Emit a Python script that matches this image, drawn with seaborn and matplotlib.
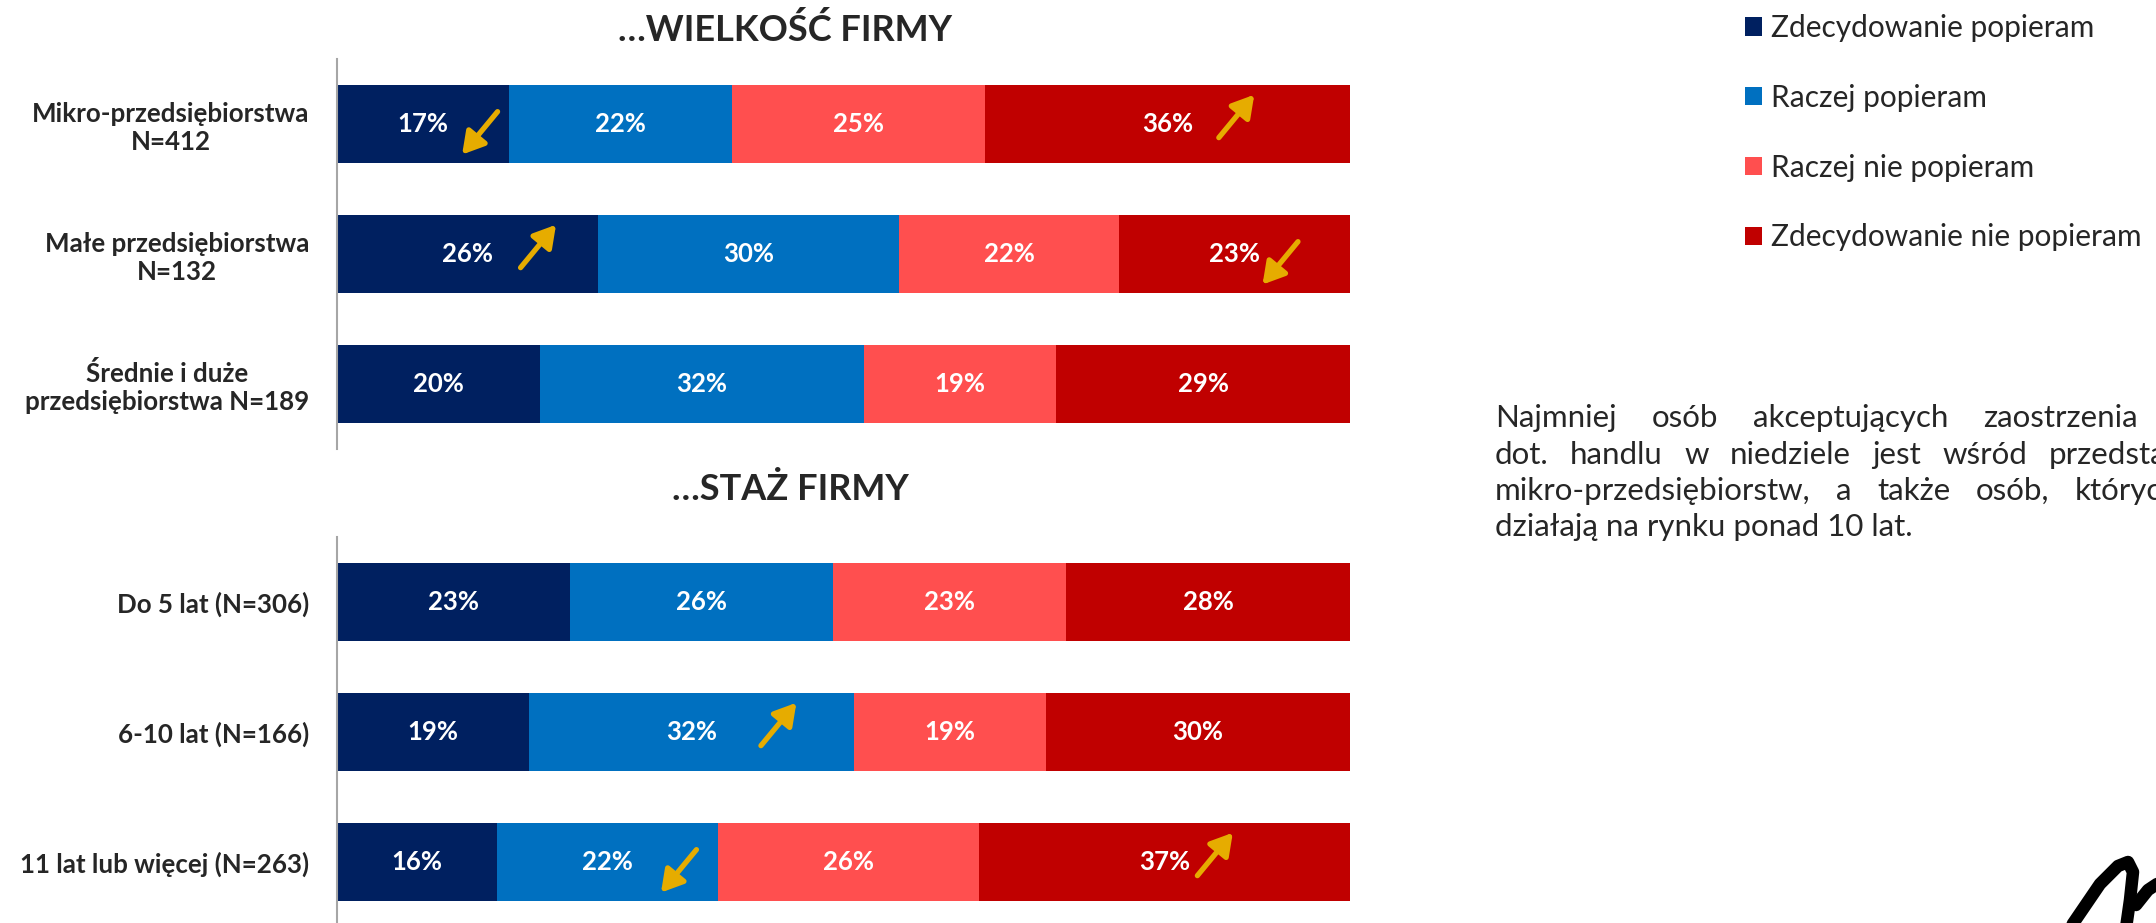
import numpy as np
import pandas as pd
import matplotlib
matplotlib.use("Agg")
import matplotlib.pyplot as plt
import seaborn as sns
from matplotlib.patches import Patch
from matplotlib.lines import Line2D


# answer categories, legend order
answers = ["Zdecydowanie popieram", "Raczej popieram",
           "Raczej nie popieram", "Zdecydowanie nie popieram"]
colors = ["#002060", "#0070C0", "#FF4F4F", "#C00000"]

# ...company size
size_labels = ["Mikro-przedsiębiorstwa\nN=412",
               "Małe przedsiębiorstwa\nN=132",
               "Średnie i duże\nprzedsiębiorstwa N=189"]
size_strong_yes = [17, 26, 20]
size_yes = [22, 30, 32]
size_no = [25, 22, 19]
size_strong_no = [36, 23, 29]

# ...company age
age_labels = ["Do 5 lat (N=306)", "6-10 lat (N=166)", "11 lat lub więcej (N=263)"]
age_strong_yes = [23, 19, 16]
age_yes = [26, 32, 22]
age_no = [23, 19, 26]
age_strong_no = [28, 30, 37]

# significance arrows: (row, answer index, direction, shift right of label in %)
size_arrows = [(0, 0, "down", 5.6), (0, 3, "up", 6.8),
               (1, 0, "up", 7.0), (1, 3, "down", 4.5)]
age_arrows = [(1, 1, "up", 8.6), (2, 1, "down", 7.0), (2, 3, "up", 5.0)]

comment_lines = [
    "Najmniej osób akceptujących zaostrzenia",
    "dot. handlu w niedziele jest wśród przedstawicieli",
    "mikro-przedsiębiorstw, a także osób, których",
    "działają na rynku ponad 10 lat.",
]

W, H = 2156, 923
GOLD = "#E6AC00"
GREY = "#A6A6A6"

sns.set_style("white")
plt.rcParams["font.family"] = ["Lato", "DejaVu Sans"]


def draw_panel(ax, labels, series, arrows):
    df = pd.DataFrame(dict(zip(answers, series)), index=labels)
    shares = df.div(df.sum(axis=1), axis=0) * 100
    cum = shares.cumsum(axis=1)

    # stacked bars: draw cumulative totals back to front
    for i in reversed(range(len(answers))):
        sns.barplot(x=cum[answers[i]].values, y=labels, orient="h",
                    color=colors[i], saturation=1, width=0.6,
                    edgecolor="none", ax=ax)

    for r in range(len(labels)):
        for i in range(len(answers)):
            xc = cum.iloc[r, i] - shares.iloc[r, i] / 2
            ax.text(xc, r, f"{df.iloc[r, i]}%", ha="center", va="center",
                    color="white", fontsize=18.5, fontweight="bold")

    dx, dy = 1.75, 0.165
    for r, i, d, off in arrows:
        xc = cum.iloc[r, i] - shares.iloc[r, i] / 2 + off
        if d == "down":
            yc = r + 0.07
            tail, tip = (xc + dx, yc - dy), (xc - dx, yc + dy)
        else:
            yc = r - 0.06
            tail, tip = (xc - dx, yc + dy), (xc + dx, yc - dy)
        ax.annotate("", xy=tip, xytext=tail,
                    arrowprops=dict(arrowstyle="-|>,head_length=0.65,head_width=0.38",
                                    color=GOLD, lw=3.8, mutation_scale=20,
                                    shrinkA=0, shrinkB=0))

    ax.set_xlim(0, 100)
    ax.set_xlabel("")
    ax.set_ylabel("")
    ax.xaxis.set_visible(False)
    for s in ["top", "right", "bottom"]:
        ax.spines[s].set_visible(False)
    ax.spines["left"].set_color(GREY)
    ax.spines["left"].set_linewidth(1.5)
    ax.tick_params(axis="y", which="major", length=0, pad=20)
    ax.set_yticks([-0.5, 0.5, 1.5, 2.5], minor=True)
    ax.tick_params(axis="y", which="minor", length=7, width=1.5, color=GREY)
    for lab in ax.get_yticklabels():
        lab.set_fontweight("bold")
        lab.set_fontsize(18.6)
        lab.set_multialignment("center")


fig = plt.figure(figsize=(W / 100, H / 100), dpi=100)
left, width = 337 / W, 1013 / W
ax1 = fig.add_axes([left, 1 - 449 / H, width, 390 / H])
ax2 = fig.add_axes([left, 1 - 927 / H, width, 390 / H])

draw_panel(ax1, size_labels,
           [size_strong_yes, size_yes, size_no, size_strong_no], size_arrows)
draw_panel(ax2, age_labels,
           [age_strong_yes, age_yes, age_no, age_strong_no], age_arrows)

fig.text(785 / W, 1 - 30 / H, "…WIELKOŚĆ FIRMY", ha="center", va="center",
         fontsize=26, fontweight="bold")
fig.text(790 / W, 1 - 489 / H, "…STAŻ FIRMY", ha="center", va="center",
         fontsize=26, fontweight="bold")

handles = [Patch(facecolor=c, edgecolor="none", label=a) for a, c in zip(answers, colors)]
fig.legend(handles=handles, loc="upper left", bbox_to_anchor=(1745 / W, 1 - 14 / H),
           frameon=False, fontsize=21.5, labelspacing=1.4, handlelength=0.57,
           handleheight=0.57, handletextpad=0.3, borderpad=0, borderaxespad=0)

# justified comment text, cut by the right edge as in the original slide.
# first word starts at x0; the last visible word either starts at a given x
# ("start") or ends at it ("end")
x0 = 1495
line_y = [418, 455, 491, 527]
line_last = [("end", 2138), ("start", 2049), ("start", 2075), None]
renderer = fig.canvas.get_renderer()
for line, y, anchor in zip(comment_lines, line_y, line_last):
    if anchor is None:
        fig.text(x0 / W, 1 - y / H, line, ha="left", va="center", fontsize=22.5)
        continue
    words = line.split(" ")
    texts = [fig.text(0, 1 - y / H, w, ha="left", va="center", fontsize=22.5) for w in words]
    widths = [t.get_window_extent(renderer).width for t in texts]
    mode, xa = anchor
    x_last = xa - widths[-1] if mode == "end" else xa
    gap = (x_last - x0 - sum(widths[:-1])) / (len(words) - 1)
    x = x0
    for t, wd in zip(texts, widths):
        t.set_x(x / W)
        x += wd + gap

# logo scribble in the corner
logo = [[(2070, 928), (2100, 884), (2118, 866), (2128, 862), (2133, 872), (2130, 900), (2126, 928)],
        [(2136, 905), (2148, 890), (2160, 882)]]
for pts in logo:
    xs = [p[0] / W for p in pts]
    ys = [1 - p[1] / H for p in pts]
    fig.add_artist(Line2D(xs, ys, transform=fig.transFigure, color="black",
                          lw=9, solid_capstyle="round", solid_joinstyle="round"))

plt.savefig("out.png", dpi=100)
